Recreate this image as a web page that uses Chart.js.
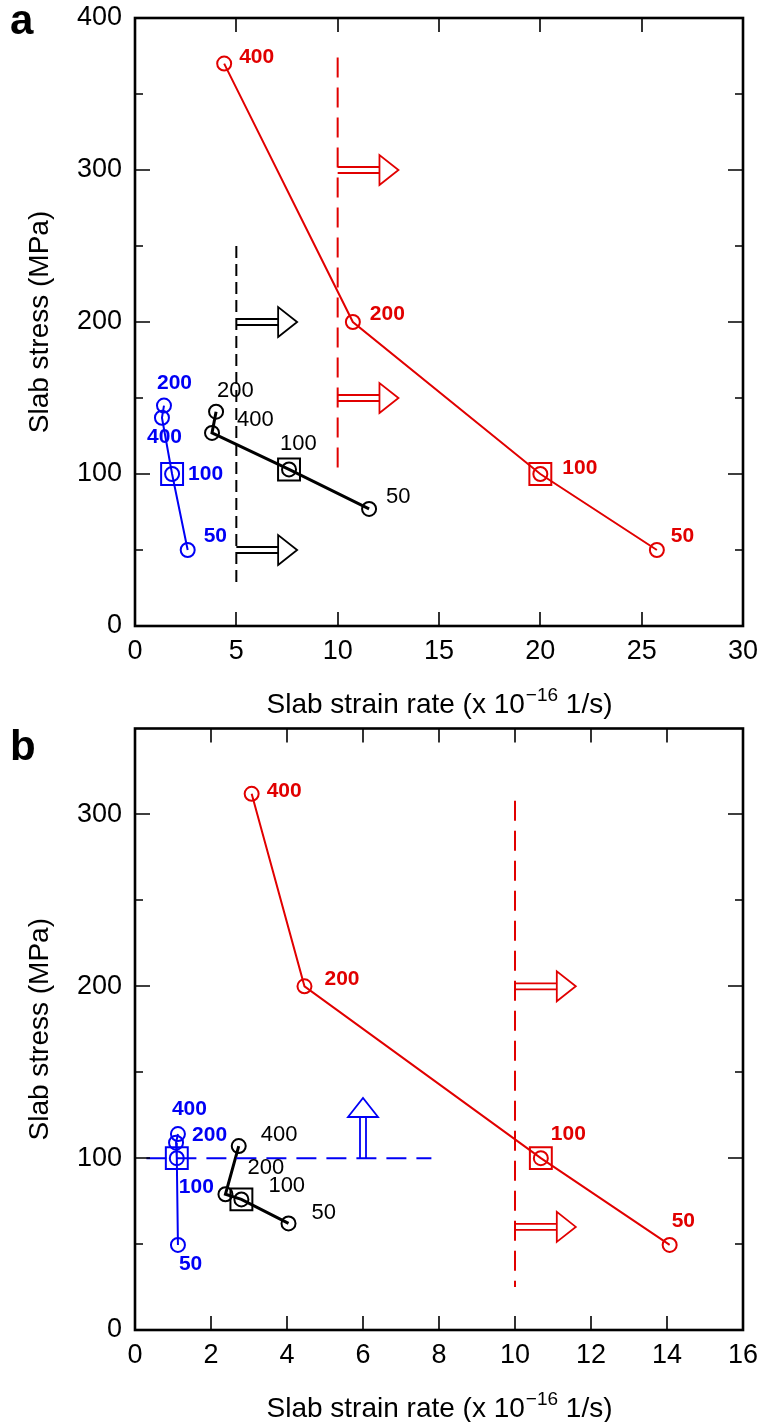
<!DOCTYPE html>
<html>
<head>
<script src="https://cdn.jsdelivr.net/npm/chart.js"></script>
<style>
  body { margin: 0; background: #fff; position: relative; width: 763px; height: 1422px; overflow: hidden; }
  canvas { display: block; position: absolute; left: 0; }
  #panel_a { top: 0; }
  #panel_b { top: 711px; }
</style>
</head>
<body>
<canvas id="panel_a" width="763" height="730"></canvas>
<canvas id="panel_b" width="763" height="711"></canvas>
<script>
// ---- panel a ----
var redLabelsA = ['400', '200', '100', '50'];
var redXA = [4.4, 10.75, 20.0, 25.75];
var redYA = [370, 200, 100, 50];
var blackLabelsA = ['200', '400', '100', '50'];
var blackXA = [4.0, 3.8, 7.6, 11.55];
var blackYA = [141, 127, 103, 77];
var blueLabelsA = ['200', '400', '100', '50'];
var blueXA = [1.43, 1.33, 1.83, 2.6];
var blueYA = [145, 137, 100, 50];
var redLimitXA = [10, 10];
var redLimitYA = [374, 100];
var blackLimitXA = [5, 5];
var blackLimitYA = [250, 25];
var redArrowYA = [300, 150];     // arrows pointing right, from x=10 to x=13
var redArrowXA = [10, 13];
var blackArrowYA = [200, 50];
var blackArrowXA = [5, 8];

// ---- panel b ----
var redLabelsB = ['400', '200', '100', '50'];
var redXB = [3.07, 4.46, 10.68, 14.07];
var redYB = [312, 200, 100, 49.5];
var blackLabelsB = ['400', '200', '100', '50'];
var blackXB = [2.73, 2.38, 2.8, 4.04];
var blackYB = [107, 79, 76, 62];
var blueLabelsB = ['400', '200', '100', '50'];
var blueXB = [1.13, 1.08, 1.1, 1.13];
var blueYB = [114, 109, 100, 49.5];
var redLimitXB = [10, 10];
var redLimitYB = [308, 25];
var blueLimitXB = [0.3, 7.8];
var blueLimitYB = [100, 100];
var redArrowYB = [200, 60];
var redArrowXB = [10, 11.6];
var blueArrowXB = [6];           // arrow pointing up, from y=100 to y=135
var blueArrowYB = [100, 135];

var RED = 'rgb(225,0,0)';
var BLUE = 'rgb(0,0,245)';
var BLACK = '#000';
var FONT = '"Liberation Sans", Arial, Helvetica, sans-serif';

Chart.defaults.font.family = FONT;
Chart.defaults.color = '#000';

function pts(xs, ys) {
    return xs.map(function (x, i) { return {x: x, y: ys[i]}; });
}

function seriesSet(xs, ys, color, width) {
    return {
        data: pts(xs, ys),
        showLine: true,
        borderColor: color,
        borderWidth: width,
        pointRadius: 7,
        pointBorderWidth: 2,
        pointBorderColor: color,
        pointBackgroundColor: 'rgba(0,0,0,0)',
    };
}

function squareSet(xs, ys, labels, color) {
    var i = labels.indexOf('100');
    return {
        data: [{x: xs[i], y: ys[i]}],
        showLine: false,
        pointStyle: 'rect',
        pointRadius: 15.5,
        pointBorderWidth: 2,
        pointBorderColor: color,
        pointBackgroundColor: 'rgba(0,0,0,0)',
    };
}

function limitSet(xs, ys, color, dash) {
    return {
        data: pts(xs, ys),
        showLine: true,
        borderColor: color,
        borderWidth: 2,
        borderDash: dash,
        pointRadius: 0,
    };
}

function drawArrow(ctx, x0, y0, x1, y1, color) {
    // hollow arrow: double-line shaft + outlined triangle head
    var dx = x1 - x0, dy = y1 - y0;
    var len = Math.sqrt(dx * dx + dy * dy);
    var ux = dx / len, uy = dy / len;
    var nx = -uy, ny = ux;
    var head = 19, hw = 15, sw = 3;
    var bx = x1 - ux * head, by = y1 - uy * head;
    ctx.save();
    ctx.strokeStyle = color;
    ctx.lineWidth = 1.8;
    ctx.beginPath();
    ctx.moveTo(x0 + nx * sw, y0 + ny * sw);
    ctx.lineTo(bx + nx * sw, by + ny * sw);
    ctx.moveTo(x0 - nx * sw, y0 - ny * sw);
    ctx.lineTo(bx - nx * sw, by - ny * sw);
    ctx.stroke();
    ctx.beginPath();
    ctx.moveTo(bx + nx * hw, by + ny * hw);
    ctx.lineTo(x1, y1);
    ctx.lineTo(bx - nx * hw, by - ny * hw);
    ctx.closePath();
    ctx.fillStyle = '#fff';
    ctx.fill();
    ctx.stroke();
    ctx.restore();
}

var decor = {
    id: 'decor',
    afterDatasetsDraw: function (chart, args, opts) {
        var ctx = chart.ctx;
        var xs = chart.scales.x, ys = chart.scales.y;
        opts.arrows.forEach(function (a) {
            drawArrow(ctx, xs.getPixelForValue(a.x0), ys.getPixelForValue(a.y0),
                xs.getPixelForValue(a.x1), ys.getPixelForValue(a.y1), a.color);
        });
        opts.labels.forEach(function (s) {
            ctx.save();
            ctx.fillStyle = s.color;
            ctx.font = s.font;
            ctx.textAlign = 'left';
            ctx.textBaseline = 'middle';
            s.labels.forEach(function (t, i) {
                var px = xs.getPixelForValue(s.xs[i]);
                var py = ys.getPixelForValue(s.ys[i]);
                ctx.fillText(t, px + s.offsets[i][0], py + s.offsets[i][1]);
            });
            ctx.restore();
        });
    },
    afterDraw: function (chart, args, opts) {
        var ctx = chart.ctx;
        var a = chart.chartArea;
        var xs = chart.scales.x, ys = chart.scales.y;
        ctx.save();
        ctx.strokeStyle = '#000';
        ctx.lineWidth = 1.6;
        ctx.beginPath();
        xs.ticks.forEach(function (t) {
            var p = Math.round(xs.getPixelForValue(t.value));
            if (t.value <= xs.min || t.value >= xs.max) return;
            var L = (t.label === '' ? 8 : 14);
            ctx.moveTo(p, a.bottom); ctx.lineTo(p, a.bottom - L);
            ctx.moveTo(p, a.top); ctx.lineTo(p, a.top + L);
        });
        ys.ticks.forEach(function (t) {
            var p = Math.round(ys.getPixelForValue(t.value));
            if (t.value <= ys.min || t.value >= ys.max) return;
            var L = (t.label === '' ? 8 : 15);
            ctx.moveTo(a.left, p); ctx.lineTo(a.left + L, p);
            ctx.moveTo(a.right, p); ctx.lineTo(a.right - L, p);
        });
        ctx.stroke();
        ctx.lineWidth = 2.6;
        ctx.strokeRect(a.left, a.top, a.right - a.left, a.bottom - a.top);

        // x axis title with superscript exponent
        var cx = (a.left + a.right) / 2, cy = a.bottom + 77;
        var f1 = '28px ' + FONT, f2 = '19px ' + FONT;
        var s1 = 'Slab strain rate (x 10', s2 = '\u221216', s3 = ' 1/s)';
        ctx.font = f1; var w1 = ctx.measureText(s1).width, w3 = ctx.measureText(s3).width;
        ctx.font = f2; var w2 = ctx.measureText(s2).width;
        var x = cx - (w1 + w2 + w3) / 2;
        ctx.fillStyle = '#000';
        ctx.textBaseline = 'alphabetic';
        ctx.textAlign = 'left';
        ctx.font = f1; ctx.fillText(s1, x, cy + 10);
        ctx.font = f2; ctx.fillText(s2, x + w1 + 1, cy - 2);
        ctx.font = f1; ctx.fillText(s3, x + w1 + w2 + 1, cy + 10);

        // panel letter
        ctx.font = 'bold 42px ' + FONT;
        ctx.fillText(opts.letter, 10, opts.letterY);
        ctx.restore();
    }
};

function makePanel(id, cfg) {
    return new Chart(document.getElementById(id), {
        type: 'scatter',
        data: {datasets: cfg.datasets},
        options: {
            responsive: false,
            animation: false,
            events: [],
            layout: {padding: {top: cfg.padTop, right: 20, left: 0, bottom: 0}},
            plugins: {
                legend: {display: false},
                tooltip: {enabled: false},
                decor: {arrows: cfg.arrows, labels: cfg.labels, letter: cfg.letter, letterY: cfg.letterY},
            },
            scales: {
                x: {
                    type: 'linear',
                    min: 0,
                    max: cfg.xMax,
                    grid: {display: false, drawTicks: false},
                    border: {display: false},
                    ticks: {stepSize: cfg.xStep, autoSkip: false, maxRotation: 0, padding: 9,
                        font: {size: 27}, color: '#000'},
                    afterFit: function (s) {
                        s.height = cfg.xHeight;
                        s.paddingLeft = 0;
                        s.paddingRight = 0;
                    },
                },
                y: {
                    min: 0,
                    max: cfg.yMax,
                    grid: {display: false, drawTicks: false},
                    border: {display: false},
                    ticks: {stepSize: 50, autoSkip: false, padding: 13, font: {size: 27}, color: '#000',
                        callback: function (v) { return v % 100 === 0 ? String(v) : ''; }},
                    title: {display: true, text: 'Slab stress (MPa)', font: {size: 28}, color: '#000',
                        padding: {top: 23, bottom: 0}},
                    afterFit: function (s) {
                        s.width = 135;
                        s.paddingTop = 0;
                        s.paddingBottom = 0;
                    },
                },
            },
        },
        plugins: [decor],
    });
}

var boldRed = 'bold 21px ' + FONT;
var boldBlue = 'bold 21px ' + FONT;
var plainBlack = '22px ' + FONT;

makePanel('panel_a', {
    padTop: 18, xHeight: 104, xMax: 30, xStep: 5, yMax: 400, letter: 'a', letterY: 34,
    datasets: [
        limitSet(redLimitXA, redLimitYA, RED, [20, 10]),
        limitSet(blackLimitXA, blackLimitYA, BLACK, [12, 6]),
        seriesSet(redXA, redYA, RED, 2),
        seriesSet(blackXA, blackYA, BLACK, 3),
        seriesSet(blueXA, blueYA, BLUE, 2),
        squareSet(redXA, redYA, redLabelsA, RED),
        squareSet(blackXA, blackYA, blackLabelsA, BLACK),
        squareSet(blueXA, blueYA, blueLabelsA, BLUE),
    ],
    arrows: redArrowYA.map(function (y) {
        return {x0: redArrowXA[0], y0: y, x1: redArrowXA[1], y1: y, color: RED};
    }).concat(blackArrowYA.map(function (y) {
        return {x0: blackArrowXA[0], y0: y, x1: blackArrowXA[1], y1: y, color: BLACK};
    })),
    labels: [
        {xs: redXA, ys: redYA, labels: redLabelsA, color: RED, font: boldRed,
            offsets: [[15, -6], [17, -8], [22, -6], [14, -14]]},
        {xs: blackXA, ys: blackYA, labels: blackLabelsA, color: BLACK, font: plainBlack,
            offsets: [[1, -21], [25, -13], [-9, -26], [17, -12]]},
        {xs: blueXA, ys: blueYA, labels: blueLabelsA, color: BLUE, font: boldBlue,
            offsets: [[-7, -22], [-15, 19], [16, 0], [16, -14]]},
    ],
});

makePanel('panel_b', {
    padTop: 12, xHeight: 92, xMax: 16, xStep: 2, yMax: 350, letter: 'b', letterY: 49,
    datasets: [
        limitSet(redLimitXB, redLimitYB, RED, [20, 10]),
        limitSet(blueLimitXB, blueLimitYB, BLUE, [20, 10]),
        seriesSet(redXB, redYB, RED, 2),
        seriesSet(blackXB, blackYB, BLACK, 3),
        seriesSet(blueXB, blueYB, BLUE, 2),
        squareSet(redXB, redYB, redLabelsB, RED),
        squareSet(blackXB, blackYB, blackLabelsB, BLACK),
        squareSet(blueXB, blueYB, blueLabelsB, BLUE),
    ],
    arrows: redArrowYB.map(function (y) {
        return {x0: redArrowXB[0], y0: y, x1: redArrowXB[1], y1: y, color: RED};
    }).concat(blueArrowXB.map(function (x) {
        return {x0: x, y0: blueArrowYB[0], x1: x, y1: blueArrowYB[1], color: BLUE};
    })),
    labels: [
        {xs: redXB, ys: redYB, labels: redLabelsB, color: RED, font: boldRed,
            offsets: [[15, -3], [20, -7], [10, -24], [2, -24]]},
        {xs: blackXB, ys: blackYB, labels: blackLabelsB, color: BLACK, font: plainBlack,
            offsets: [[22, -11], [22, -26], [27, -13], [23, -11]]},
        {xs: blueXB, ys: blueYB, labels: blueLabelsB, color: BLUE, font: boldBlue,
            offsets: [[-6, -25], [16, -7], [2, 29], [1, 19]]},
    ],
});
</script>
</body>
</html>
